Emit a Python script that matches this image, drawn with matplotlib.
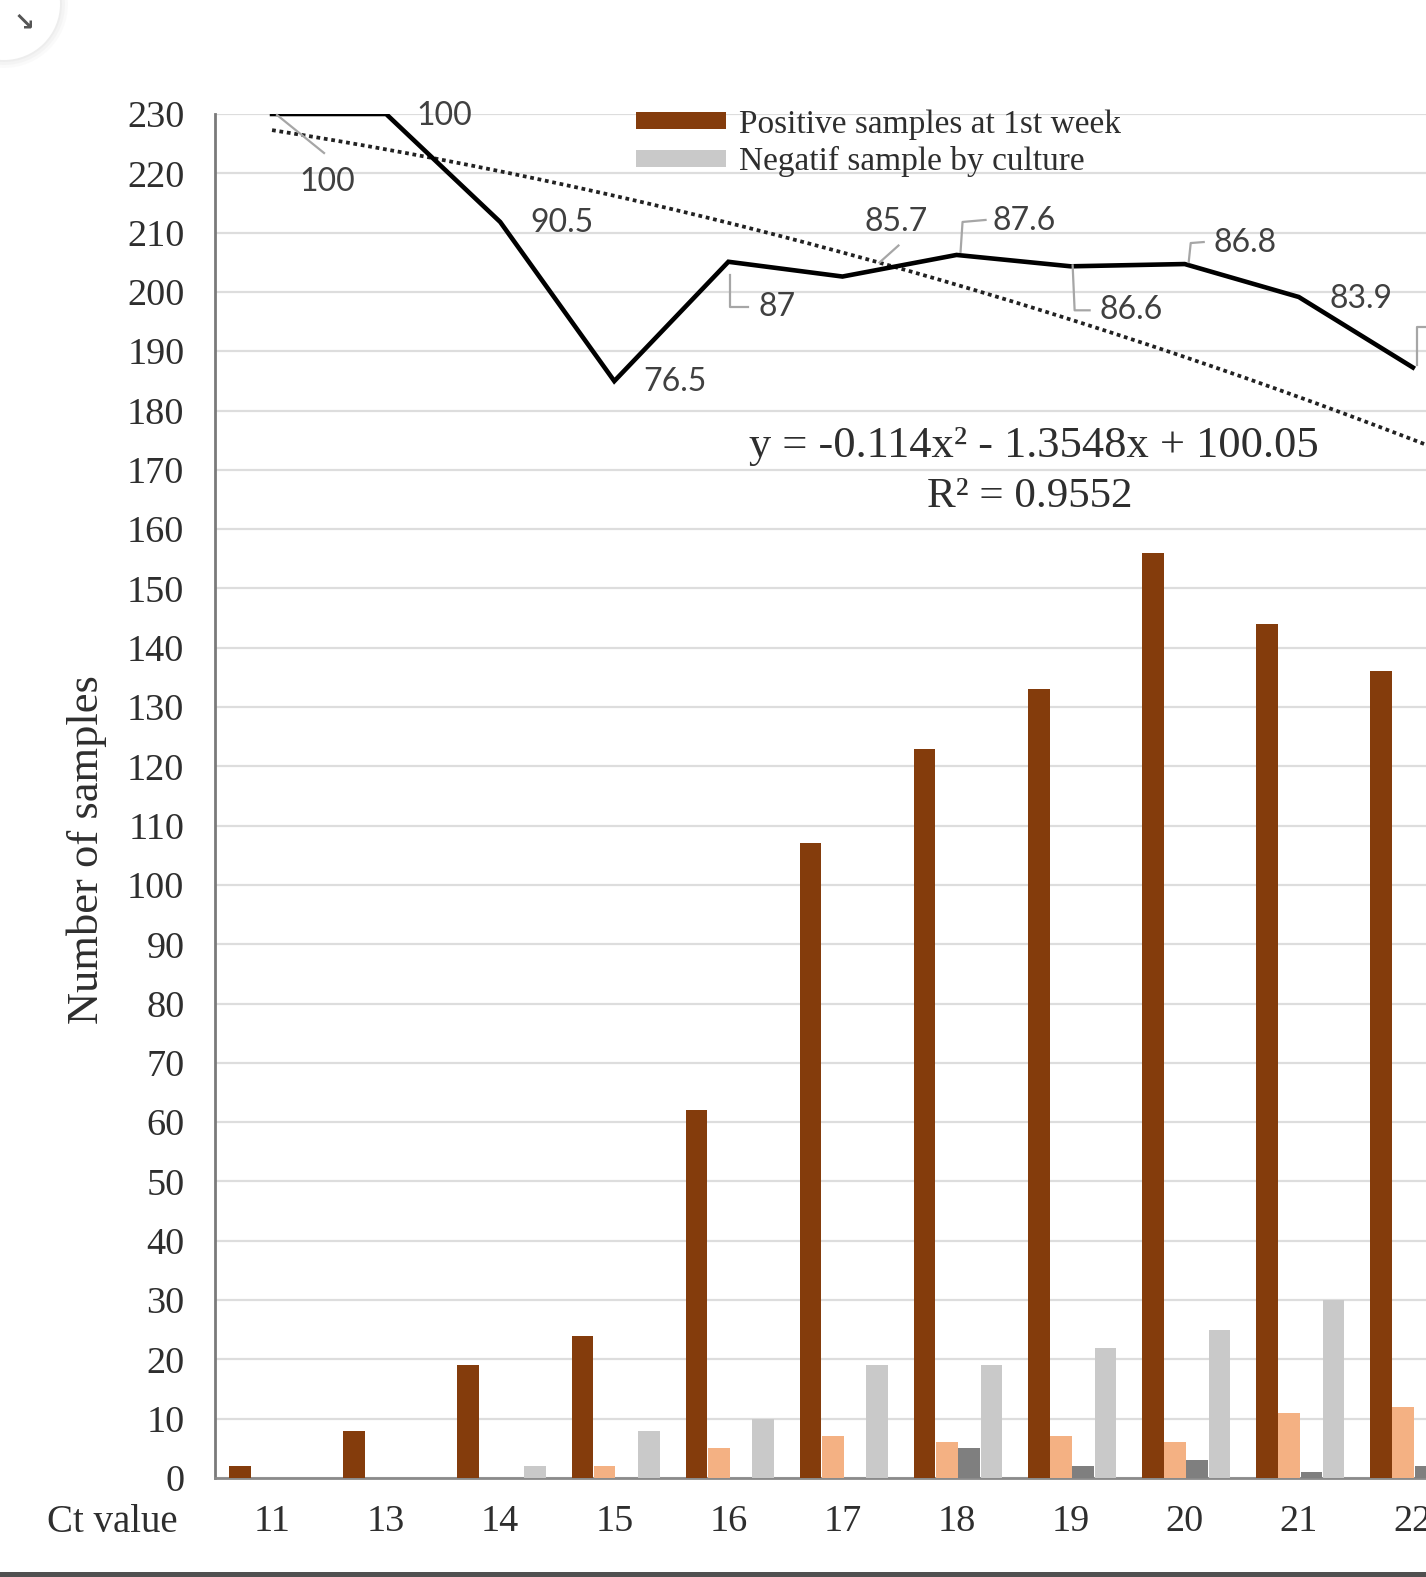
import numpy as np
import matplotlib
matplotlib.use("Agg")
import matplotlib.pyplot as plt
from matplotlib.patches import Patch, Rectangle, Circle
from matplotlib.lines import Line2D

# ---------------- data ----------------
ct_values = ["11", "13", "14", "15", "16", "17", "18", "19", "20", "21", "22"]
positive_1st_week = [2, 8, 19, 24, 62, 107, 123, 133, 156, 144, 136]
salmon_series = [0, 0, 0, 2, 5, 7, 6, 7, 6, 11, 12]
darkgray_series = [0, 0, 0, 0, 0, 0, 5, 2, 3, 1, 2]
negatif_culture = [0, 0, 2, 8, 10, 19, 19, 22, 25, 30, 0]
percent_line = [100, 100, 90.5, 76.5, 87, 85.7, 87.6, 86.6, 86.8, 83.9, 77.7]
percent_labels = ["100", "100", "90.5", "76.5", "87", "85.7", "87.6", "86.6", "86.8", "83.9", ""]
trend_coef = [-0.114, -1.3548, 100.05]  # y = a x^2 + b x + c
yticks = list(range(0, 231, 10))

# ---------------- style ----------------
SERIF = ["Liberation Serif", "DejaVu Serif"]
SANS = ["Lato", "DejaVu Sans"]
C_BROWN = "#843C0C"
C_SALMON = "#F4B183"
C_DGRAY = "#7F7F7F"
C_LGRAY = "#C9C9C9"
C_TEXT = "#2E2E2E"

W, H = 1426, 1577
fig = plt.figure(figsize=(W / 100, H / 100), dpi=100)
fig.patch.set_facecolor("white")

ax_left, ax_bottom = 215 / W, 1 - 1478 / H
ax_w, ax_h = (W - 215) / W, (1478 - 114) / H
ax = fig.add_axes([ax_left, ax_bottom, ax_w, ax_h])

x = np.arange(len(ct_values))
bw = 0.19
offs = [-0.28, -0.085, 0.11, 0.305]
ax.bar(x + offs[0], positive_1st_week, width=bw, color=C_BROWN, zorder=3)
ax.bar(x + offs[1], salmon_series, width=bw, color=C_SALMON, zorder=3)
ax.bar(x + offs[2], darkgray_series, width=bw, color=C_DGRAY, zorder=3)
ax.bar(x + offs[3], negatif_culture, width=bw, color=C_LGRAY, zorder=3)

ax.set_xlim(-0.5, 10.115)
ax.set_ylim(0, 230)
ax.set_yticks(yticks)
ax.set_yticklabels([str(v) for v in yticks], fontfamily=SERIF, fontsize=27.5, color=C_TEXT)
ax.set_xticks(x)
ax.set_xticklabels(ct_values, fontfamily=SERIF, fontsize=27.5, color=C_TEXT)
ax.tick_params(axis="y", length=0, pad=22)
ax.tick_params(axis="x", length=0, pad=19)
ax.grid(axis="y", color="#DDDDDD", linewidth=1.6, zorder=0)
ax.set_axisbelow(True)
for s in ["top", "right"]:
    ax.spines[s].set_visible(False)
ax.spines["left"].set_color("#7A7A7A")
ax.spines["left"].set_linewidth(2.0)
ax.spines["bottom"].set_color("#8A8A8A")
ax.spines["bottom"].set_linewidth(2.0)

# ---------------- secondary (percent) ----------------
ax2 = ax.twinx()
ax2.set_ylim(-20, 100)
ax2.set_xlim(ax.get_xlim())
ax2.axis("off")
ax2.plot(x, percent_line, color="black", linewidth=3.3, zorder=5, solid_joinstyle="miter")

t = np.linspace(1, 12, 300)
a, b, c = trend_coef
ax2.plot(t - 1, a * t ** 2 + b * t + c, color="#222222", linewidth=2.7,
         linestyle=(0, (1, 1.0)), zorder=4)

# data labels (offsets in pixels)
label_offsets = [(55, -68), (58, -2), (62, -1), (61, -1), (49, -45), (54, 55),
                 (68, 34), (60, -44), (60, 21), (62, -2), (0, 0)]
for xi, yi, lab, off in zip(x, percent_line, percent_labels, label_offsets):
    if lab:
        ax2.annotate(lab, (xi, yi), xytext=off, textcoords="offset pixels",
                     ha="center", va="center", fontsize=23, family=SANS,
                     color="#404040", zorder=6)

# leader lines (pixel offsets relative to point)
leaders = {0: [(5, -1), (52, -39)],
           4: [(2, -13), (2, -45), (20, -45)],
           5: [(37, 14), (56, 31)],
           6: [(4, 3), (6, 33), (29, 35)],
           7: [(2, 1), (4, -44), (19, -44)],
           8: [(4, 2), (6, 21), (19, 22)],
           10: [(4, 2), (4, 40), (13, 40)]}
fig.canvas.draw()
for i, pts in leaders.items():
    px, py = ax2.transData.transform((x[i], percent_line[i]))
    xs = [px + d[0] for d in pts]
    ys = [py + d[1] for d in pts]
    fig.add_artist(Line2D(xs, ys, transform=None, color="#A6A6A6", linewidth=1.6, zorder=6))

# ---------------- legend ----------------
handles = [Patch(facecolor=C_BROWN, edgecolor="none"), Patch(facecolor=C_LGRAY, edgecolor="none")]
fig.legend(handles, ["Positive samples at 1st week", "Negatif sample by culture"],
           loc="upper left", bbox_to_anchor=(636 / W, 1 - 109 / H),
           frameon=False, prop={"family": SERIF, "size": 24},
           handlelength=2.7, handleheight=0.42, handletextpad=0.38,
           labelspacing=0.2, borderpad=0, borderaxespad=0, labelcolor=C_TEXT)

# ---------------- equation ----------------
fig.text(1034 / W, 1 - 446 / H, "y = -0.114x² - 1.3548x + 100.05", ha="center", va="center",
         family=SERIF, fontsize=32, color=C_TEXT)
fig.text(1030 / W, 1 - 497 / H, "R² = 0.9552", ha="center", va="center",
         family=SERIF, fontsize=31, color=C_TEXT)

# ---------------- axis titles ----------------
fig.text(87 / W, 1 - 850 / H, "Number of samples", rotation=90, ha="center", va="center",
         family=SERIF, fontsize=32, color=C_TEXT)
fig.text(178 / W, 1 - 1523 / H, "Ct value", ha="right", va="center",
         family=SERIF, fontsize=28, color=C_TEXT)

# ---------------- screenshot chrome ----------------
for r, al in [(64, 0.05), (61, 0.07), (58, 0.09)]:
    fig.add_artist(Circle((4, H - 4), r, transform=None, facecolor="#B0B0B0",
                          edgecolor="none", alpha=al, zorder=1))
fig.add_artist(Circle((4, H - 4), 56, transform=None, facecolor="white", edgecolor="none", zorder=1))
fig.text(24 / W, 1 - 22 / H, "↘", ha="center", va="center", fontsize=18,
         color="#555555", family=["DejaVu Sans"], fontweight="bold")
fig.add_artist(Rectangle((0, 0), 1, 5 / H, transform=fig.transFigure,
                         facecolor="#505050", edgecolor="none"))

fig.savefig("out.png", dpi=100)
